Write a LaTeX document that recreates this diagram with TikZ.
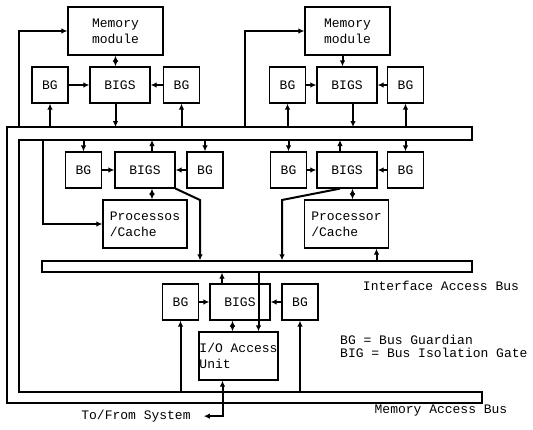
\documentclass[tikz,border=0pt]{standalone}
\usepackage{fontspec}
\setmonofont{Liberation Mono}
\usetikzlibrary{arrows.meta}

\tikzset{
  unit/.style={draw, line width=1.2pt, inner sep=1pt, align=center,
    font=\ttfamily\fontsize{13}{16}\selectfont},
  guard/.style={unit, minimum width=36pt, minimum height=36pt},
  gate/.style={unit, minimum width=60pt, minimum height=36pt},
  cpu/.style={unit, align=left, minimum width=84pt, minimum height=48pt},
  sig/.style={line width=2pt, -{Latex[length=6pt,width=5.5pt]}},
  twoway/.style={line width=2pt, {Latex[length=6pt,width=5.5pt]}-{Latex[length=6pt,width=5.5pt]}},
  bus/.style={line width=1.2pt},
  lbl/.style={font=\ttfamily\fontsize{13}{15}\selectfont, inner sep=0pt}
}

\begin{document}
\begin{tikzpicture}[x=1pt,y=-1pt]
\useasboundingbox (0,0) rectangle (533,429);

% memory access bus, a U round the whole system
\draw[bus] (7,127) -- (472,127) -- (472,140) -- (19,140) -- (19,392)
  -- (482,392) -- (482,403) -- (7,403) -- cycle;
\coordinate (mtop) at (0,127);
\coordinate (mtopin) at (0,140);
\coordinate (mbotin) at (0,392);
% interface access bus
\node[bus, draw, minimum width=430pt, minimum height=11pt, inner sep=0pt] (ibus) at (257,266.5) {};

% memory modules
\node[unit, minimum width=95pt, minimum height=48pt] (memA) at (115.5,31) {Memory\\module};
\node[guard] (bgA1) at (50,85) {BG};
\node[gate] (bigsA) at (120,85) {BIGS};
\node[guard] (bgA2) at (181.5,85) {BG};

\node[unit, minimum width=85pt, minimum height=48pt] (memB) at (347.5,31) {Memory\\module};
\node[guard] (bgB1) at (287.5,85) {BG};
\node[gate] (bigsB) at (347,85) {BIGS};
\node[guard] (bgB2) at (405.5,85) {BG};

% processors
\node[guard] (bgC1) at (83.5,170) {BG};
\node[gate] (bigsC) at (145,170) {BIGS};
\node[guard] (bgC2) at (205,170) {BG};
\node[cpu] (procC) at (145,224) {Processos\\/Cache};

\node[guard] (bgD1) at (288.5,170) {BG};
\node[gate] (bigsD) at (347,170) {BIGS};
\node[guard] (bgD2) at (405.5,170) {BG};
\node[cpu] (procD) at (346.5,224) {Processor\\/Cache};

% I/O
\node[guard] (bgE1) at (180.5,302) {BG};
\node[gate] (bigsE) at (240,302) {BIGS};
\node[guard] (bgE2) at (300,302) {BG};
\node[unit, align=left, minimum width=79pt, minimum height=48pt, inner sep=0pt] (io) at (238.5,356) {I/O Access\\Unit};

% labels
\node[lbl, anchor=base] (ibusname) at (441,290.5) {Interface Access Bus};
\node[lbl, anchor=base] (mbusname) at (441,413.5) {Memory Access Bus};
\node[lbl, anchor=base west] (key1) at (340,344) {BG = Bus Guardian};
\node[lbl, anchor=base west] (key2) at (340,357) {BIG = Bus Isolation Gate};
\node[lbl, anchor=base] (sys) at (136,419.5) {To/From System};

% left memory module
\coordinate (feedA) at (19,127);
\draw[sig] (feedA) |- (memA.west);
\draw[twoway] (memA.south) -- (memA.south |- bigsA.north);
\draw[sig] (memA.south |- bigsA.south) -- (memA.south |- mtop);
\draw[sig] (bgA1.east) -- (bigsA.west);
\draw[sig] (bgA2.west) -- (bigsA.east);
\draw[sig] (bgA1.south |- mtop) -- (bgA1.south);
\draw[sig] (bgA2.south |- mtop) -- (bgA2.south);

% right memory module
\coordinate (feedB) at (245,127);
\draw[sig] (feedB) |- (memB.west);
\coordinate (mB) at ([xshift=-5pt]memB.south);
\draw[sig] (mB) -- (mB |- bigsB.north);
\coordinate (gB) at ([xshift=6pt]bigsB.south);
\draw[sig] (gB) -- (gB |- mtop);
\draw[sig] (bgB1.east) -- (bigsB.west);
\draw[sig] (bgB2.west) -- (bigsB.east);
\draw[sig] (bgB1.south |- mtop) -- (bgB1.south);
\draw[sig] (bgB2.south |- mtop) -- (bgB2.south);

% left processor
\draw[sig] (bgC1.north |- mtopin) -- (bgC1.north);
\coordinate (gC) at ([xshift=7pt]bigsC.north);
\draw[sig] (gC) -- (gC |- mtopin);
\draw[sig] (bgC2.north |- mtopin) -- (bgC2.north);
\draw[sig] (bgC1.east) -- (bigsC.west);
\draw[sig] (bgC2.west) -- (bigsC.east);
\coordinate (pC) at ([xshift=7pt]procC.north);
\draw[twoway] (pC) -- (pC |- bigsC.south);
\coordinate (feedC) at (43,140);
\draw[sig] (feedC) |- (procC.west);
\coordinate (bendC) at (200,200);
\draw[sig] (bigsC.south east) -- (bendC) -- (bendC |- ibus.north);

% right processor
\draw[sig] (bgD1.north |- mtopin) -- (bgD1.north);
\coordinate (gD) at ([xshift=-7pt]bigsD.north);
\draw[sig] (gD) -- (gD |- mtopin);
\draw[sig] (bgD2.north |- mtopin) -- (bgD2.north);
\draw[sig] (bgD1.east) -- (bigsD.west);
\draw[sig] (bgD2.west) -- (bigsD.east);
\coordinate (pD) at ([xshift=6pt]procD.north);
\draw[twoway] (pD) -- (pD |- bigsD.south);
\coordinate (bendD) at (282,200);
\draw[sig] ([xshift=-7pt]bigsD.south) -- (bendD) -- (bendD |- ibus.north);
\coordinate (qD) at ([xshift=30pt]procD.south);
\draw[sig] (qD |- ibus.north) -- (qD);

% I/O access unit
\draw[sig] (bgE1.east) -- (bigsE.west);
\draw[sig] (bgE2.west) -- (bigsE.east);
\coordinate (gE) at ([xshift=-18pt]bigsE.north);
\draw[sig] (gE) -- (gE |- ibus.south);
\coordinate (iE) at ([xshift=20pt]io.north);
\draw[sig] (iE |- ibus.south) -- (iE);
\coordinate (jE) at ([xshift=-6pt]io.north);
\draw[twoway] (jE) -- (jE |- bigsE.south);
\draw[sig] (bgE1.south |- mbotin) -- (bgE1.south);
\draw[sig] (bgE2.south |- mbotin) -- (bgE2.south);
\coordinate (sE) at ([xshift=-16pt]io.south);
\draw[twoway] ([xshift=13pt]sys.east) -| (sE);
\end{tikzpicture}
\end{document}
